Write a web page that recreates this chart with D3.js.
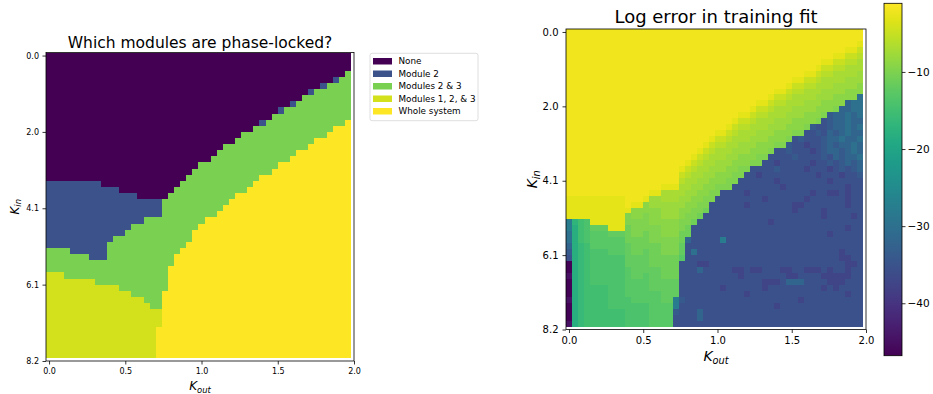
<!DOCTYPE html>
<html><head><meta charset="utf-8">
<script src="https://cdn.jsdelivr.net/npm/d3@7"></script>
<style>
html,body{margin:0;padding:0;background:#fff;}
svg{display:block;font-family:"DejaVu Sans",sans-serif;}
</style></head><body>
<svg id="chart" width="933" height="394"></svg>
<script>
// ---------- data: left panel (categorical phase-lock map) ----------
const categories = ["None", "Module 2", "Modules 2 & 3", "Modules 1, 2, & 3", "Whole system"];
const categoryColors = ["#440154", "#3b528b", "#7ad151", "#d2e11b", "#fde725"];
// for each K_out column: row index where each successive category ends
const noneEnd      = [21,21,21,21,21,21,21,21,21,22,22,22,23,23,23,24,24,24,24,24,23,22,21,20,19,18,18,17,16,15,15,14,13,13,12,11,11,10,9,9,8,8,7,6,6,5,5,4,4,3];
const module2End   = [32,32,32,32,33,33,33,34,34,34,31,30,30,29,28,28,27,27,27,24,23,22,21,20,19,18,18,17,16,15,15,14,13,13,12,12,11,10,10,9,9,8,7,7,6,6,5,5,4,3];
const modules23End = [36,36,36,37,37,37,37,37,38,38,38,38,39,39,40,40,41,42,42,39,35,33,32,31,29,28,27,27,26,25,24,23,23,22,21,20,20,19,18,18,17,16,16,15,14,14,13,12,12,11];
const modules123End= [50,50,50,50,50,50,50,50,50,50,50,50,50,50,50,50,50,50,45,39,35,33,32,31,29,28,27,27,26,25,24,23,23,22,21,20,20,19,18,18,17,16,16,15,14,14,13,12,12,11];

// ---------- data: right panel (log error), one char per cell ----------
const levelChars  = "ABCDEFGHIJKLMNOPQRSTUVWXYZabcdef";
const levelValues = [-1.2,-2,-3,-4,-5,-6,-7,-8,-9,-10,-11,-12,-13,-14,-15,-16,-17,-18,-20,-22,-25,-28,-30,-32,-34,-35.5,-37.5,-39.5,-41.5,-43.5,-45,-46.5];
const errorRows = [
"BBBBBBBBBB BBBBBBBBBB BBBBBBBBBB BBBBBBBBBB BBBBBBBBBB",
"BBBBBBBBBB BBBBBBBBBB BBBBBBBBBB BBBBBBBBBB BBBBBBBBBB",
"BBBBBBBBBB BBBBBBBBBB BBBBBBBBBB BBBBBBBBBB BBBBBBBBBC",
"BBBBBBBBBB BBBBBBBBBB BBBBBBBBBB BBBBBBBBBB BBBBBBBCCE",
"BBBBBBBBBB BBBBBBBBBB BBBBBBBBBB BBBBBBBBBB BBBBBCCEEF",
"BBBBBBBBBB BBBBBBBBBB BBBBBBBBBB BBBBBBBBBB BBBCCEEFFG",
"BBBBBBBBBB BBBBBBBBBB BBBBBBBBBB BBBBBBBBBB BBCEEFFGGG",
"BBBBBBBBBB BBBBBBBBBB BBBBBBBBBB BBBBBBBBBB CCEFFGGGGH",
"BBBBBBBBBB BBBBBBBBBB BBBBBBBBBB BBBBBBBBCC EEFGGGGHHH",
"BBBBBBBBBB BBBBBBBBBB BBBBBBBBBB BBBBBBBCEE FFGGGHHHHI",
"BBBBBBBBBB BBBBBBBBBB BBBBBBBBBB BBBBBCCEFF GGGHHHHIII",
"BBBBBBBBBB BBBBBBBBBB BBBBBBBBBB BBBBCEEFGG GGHHHIIIIW",
"BBBBBBBBBB BBBBBBBBBB BBBBBBBBBB BBCCEFFGGG HHHIIIIXWW",
"BBBBBBBBBB BBBBBBBBBB BBBBBBBBBB BCEEFGGGHH HHIIIJXXWW",
"BBBBBBBBBB BBBBBBBBBB BBBBBBBBBC CEFFGGGHHH IIIJYXXWXW",
"BBBBBBBBBB BBBBBBBBBB BBBBBBBBCE EFGGGHHHII IIJZYXXWXX",
"BBBBBBBBBB BBBBBBBBBB BBBBBBBCEF FGGGHHHIII JYZZYXXWXW",
"BBBBBBBBBB BBBBBBBBBB BBBBBCCEFG GGHHHIIIJJ ZZYZXYXWXX",
"BBBBBBBBBB BBBBBBBBBB BBBBCEEFGG GHHHIIIJZY ZZZYXXWXXW",
"BBBBBBBBBB BBBBBBBBBB BBBCEFFGGH HHIIIJJYZZ aZZYXYXXWX",
"BBBBBBBBBB BBBBBBBBBB BBCEFGGGHH HIIIJZZYZZ ZaZYXXYXWX",
"BBBBBBBBBB BBBBBBBBBB BCEFGGGHHI IIJJZZZZYZ ZZZYZXYXXW",
"BBBBBBBBBB BBBBBBBBBB CEFGGHHHII IJJZZaZZZZ ZaZZYZYXYX",
"BBBBBBBBBB BBBBBBBBBC EFGGHHHIIJ JZZZZYZZZZ aZZZaZYZYX",
"BBBBBBBBBB BBBBBBBBBE FGGHHIIIJJ ZZaZZZZZZZ ZZaZZZaZZY",
"BBBBBBBBBB BBBBBBBBBF GGHHIIIJJZ ZZZZZaZZZZ ZZZZaZZZZZ",
"BBBBBBBBBB BBBBBBCCCG GHHIIJJJZZ ZZZZZZaZZZ ZZZZZZZaZZ",
"BBBBBBBBBB BBBBCCGGGG HHIIJJZZZZ aZZZZZZZZZ ZaZZaaZaZZ",
"CCCCCCCCCC BBBCHHGGGH HIIJJZZZZZ ZZZaZZZZZZ aZZZZZZaZZ",
"CCCCCCCCCC BCCIHHHHHH IIJJZZZZZZ aZZZZZZZaa ZZZZZZZaZZ",
"CCCCCCCCCC CIIIIIHHHI IJJKZZZZZZ ZZZZZZZZaZ ZZZaZZZZZZ",
"CCCCCCCCCC JIIJIIHHHI JJKZZZZZZZ ZZZZZZZZZZ ZZZaZZZZaZ",
"VQONCCCCCC JJJJIIIIIJ JKZZZZZZZZ ZZZZaZZZZZ ZZZZZZZZZZ",
"VRONLLLCCC KJJJJJIIIJ KZZZZZZZZZ ZZZZZZZZZZ ZZZZZZZaZZ",
"WRONMMMLLL KJJKJJIIIK KZZZZZZZZZ ZZZZZZZZZZ ZZZZaZZZZZ",
"WRONMMMMMM KKKKJJJJJK XZZZZZVZZZ ZZZZZZZZZZ ZZZZZZZZZZ",
"XRPOMMMMMM LKKKKKJJJL ZZZZZZZZZZ ZZZZZZZZZZ ZZZZZZZZZZ",
"YRPONNNMMM LKKLKKJJJL ZWZZZZZZZZ ZZZZZZZZZZ ZZZZZZaZZZ",
"ZRPONNNNNN LLLLKKKKKM ZZZZZZZZZZ ZZZZZZZZZZ ZZZZZZaaZZ",
"fRPONNNNNN LLLLKKKKKZ ZZaaZZZZZZ ZZZZZZZZZZ ZZZZZZZaaZ",
"fRPONNNNNN MLLLLLKKKZ ZZXZZZZZaa ZaaZZZaaZZ aaaZaZZaZZ",
"eRPONNNNNN MLLMLLKKKZ ZZZZZZZZZa ZZZZZZZaaZ ZZZaaaaaZZ",
"fRPONNNNNN MMMMLLLLLZ ZZZZZZZZZZ ZZZaaaZXXX ZZZZaaaZZZ",
"fRPOOOONNN MMMMLLLLLZ ZZZZZZaZZZ ZZZaZZZZZZ ZZZaZaZZZZ",
"fRPOOOONNN MMMMMMLLLZ ZZZZZZZZZZ aZZZZZZZZZ ZZZZZZZaZZ",
"eRPOOOONNN NMMMMMLLVY ZZZZZZZZZZ ZZZZZZZZZa ZZZZZZZZZZ",
"fRPOOOONNN NNNNMMMMVZ ZZZZZZZZZZ ZZZZZaZZZZ ZZZZZZZZZZ",
"fRPOOOOOOO NNNNMMMMYZ ZZXZZZZZZZ ZZZZZZZZZZ ZZZZZZZZZZ",
"fRPOOOOOOO NNNNMMMMZZ ZZXZZZZZZZ ZZZZZZZZZZ ZZZZZZZZZZ",
"eRPOOOOOOO NNNNMMMMZZ ZZZZZZZZZZ ZZZZZZZZZZ ZZZZZZZZZZ"
];

// ---------- axes data ----------
const kOutMax = 2.0, kInMax = 8.2;
const xTickValues = [0, 0.5, 1.0, 1.5, 2.0];
const xTickLabels = ["0.0", "0.5", "1.0", "1.5", "2.0"];
const yTickValues = [0, 2.05, 4.1, 6.15, 8.2];
const yTickLabels = ["0.0", "2.0", "4.1", "6.1", "8.2"];
const colorbarTicks = [-10, -20, -30, -40];
const colorMin = -46.8, colorMax = -1.1;

// ---------- drawing ----------
const svg = d3.select("#chart");
const FONT = "DejaVu Sans";
const nCols = noneEnd.length, nRows = errorRows.length;
const stepOut = kOutMax / nCols, stepIn = kInMax / nRows;

function makeScales(box) {
  return {
    x: d3.scaleLinear().domain([-stepOut / 2, kOutMax]).range([box.x0, box.x1]),
    y: d3.scaleLinear().domain([-stepIn / 2, kInMax]).range([box.y0, box.y1])
  };
}
function drawAxes(s, box, fs, padX, padY) {
  const gx = svg.append("g").attr("transform", `translate(0,${box.y1})`)
    .call(d3.axisBottom(s.x).tickValues(xTickValues).tickFormat((d, i) => xTickLabels[i]).tickSize(3.5).tickPadding(padX));
  const gy = svg.append("g").attr("transform", `translate(${box.x0},0)`)
    .call(d3.axisLeft(s.y).tickValues(yTickValues).tickFormat((d, i) => yTickLabels[i]).tickSize(3.5).tickPadding(padY));
  [gx, gy].forEach(g => {
    g.select(".domain").remove();
    g.attr("font-size", fs).attr("font-family", FONT);
    g.selectAll("line").attr("stroke", "#000").attr("stroke-width", 0.8);
    g.selectAll("text").attr("fill", "#000");
  });
  svg.append("rect").attr("x", box.x0).attr("y", box.y0)
    .attr("width", box.x1 - box.x0).attr("height", box.y1 - box.y0)
    .attr("fill", "none").attr("stroke", "#000").attr("stroke-width", 0.8);
}
function kLabel(x, y, sub, size, rotate) {
  const t = svg.append("text")
    .attr("transform", `translate(${x},${y})` + (rotate ? " rotate(-90)" : ""))
    .attr("text-anchor", "middle").attr("font-size", size)
    .attr("font-style", "italic").attr("font-family", FONT).attr("fill", "#000");
  t.append("tspan").text("K");
  t.append("tspan").attr("font-size", size * 0.7).attr("dy", size * 0.22).text(sub);
}

// ----- left panel -----
const LB = {x0: 46, x1: 354, y0: 52.5, y1: 361};
const sL = makeScales(LB);
const segs = [];
d3.range(nCols).forEach(c => {
  const b = [0, noneEnd[c], module2End[c], modules23End[c], modules123End[c], nRows];
  for (let k = 0; k < 5; k++) if (b[k + 1] > b[k]) segs.push({c, r0: b[k], r1: b[k + 1], k});
});
svg.append("g").attr("shape-rendering", "crispEdges").selectAll("rect").data(segs).join("rect")
  .attr("x", d => sL.x((d.c - 0.5) * stepOut))
  .attr("width", d => sL.x((d.c + 0.5) * stepOut) - sL.x((d.c - 0.5) * stepOut))
  .attr("y", d => sL.y((d.r0 - 0.5) * stepIn))
  .attr("height", d => sL.y((d.r1 - 0.5) * stepIn) - sL.y((d.r0 - 0.5) * stepIn))
  .attr("fill", d => categoryColors[d.k]);
drawAxes(sL, LB, 8, 3.5, 3.5);
svg.append("text").attr("x", (LB.x0 + LB.x1) / 2).attr("y", 47.5).attr("text-anchor", "middle")
  .attr("font-size", 15.5).attr("font-family", FONT).text("Which modules are phase-locked?");
kLabel((LB.x0 + LB.x1) / 2, 390, "out", 12, false);
kLabel(18.5, (LB.y0 + LB.y1) / 2, "in", 12, true);

// legend
const leg = svg.append("g");
leg.append("rect").attr("x", 370).attr("y", 53.3).attr("width", 108).attr("height", 67.4)
  .attr("rx", 2).attr("fill", "#fff").attr("stroke", "#d5d5d5").attr("stroke-width", 0.8);
const legRows = leg.selectAll("g.item").data(categories).join("g").attr("class", "item")
  .attr("transform", (d, i) => `translate(0,${61.2 + i * 12.5})`);
legRows.append("rect").attr("x", 373).attr("y", -3.2).attr("width", 19).attr("height", 6.5)
  .attr("fill", (d, i) => categoryColors[i]);
legRows.append("text").attr("x", 398.5).attr("y", 3.1).attr("font-size", 8.8)
  .attr("font-family", FONT).attr("fill", "#000").text(d => d);

// ----- right panel -----
const RB = {x0: 566, x1: 866, y0: 29, y1: 329.5};
const sR = makeScales(RB);
const color = d3.scaleSequential(d3.interpolateViridis).domain([colorMin, colorMax]);
const cells = [];
errorRows.forEach((row, r) => {
  row.replace(/ /g, "").split("").forEach((ch, c) => {
    cells.push({r, c, v: levelValues[levelChars.indexOf(ch)]});
  });
});
svg.append("g").attr("shape-rendering", "crispEdges").selectAll("rect").data(cells).join("rect")
  .attr("x", d => sR.x((d.c - 0.5) * stepOut))
  .attr("width", d => sR.x((d.c + 0.5) * stepOut) - sR.x((d.c - 0.5) * stepOut))
  .attr("y", d => sR.y((d.r - 0.5) * stepIn))
  .attr("height", d => sR.y((d.r + 0.5) * stepIn) - sR.y((d.r - 0.5) * stepIn))
  .attr("fill", d => color(d.v));
drawAxes(sR, RB, 10, 4, 4);
svg.append("text").attr("x", (RB.x0 + RB.x1) / 2).attr("y", 23.3).attr("text-anchor", "middle")
  .attr("font-size", 18).attr("font-family", FONT).text("Log error in training fit");
kLabel((RB.x0 + RB.x1) / 2, 361, "out", 14, false);
kLabel(536.5, (RB.y0 + RB.y1) / 2, "in", 14, true);

// ----- colorbar -----
const CB = {x0: 884, x1: 902, y0: 3.3, y1: 355.7};
const cbScale = d3.scaleLinear().domain([colorMin, colorMax]).range([CB.y1, CB.y0]);
const defs = svg.append("defs");
const grad = defs.append("linearGradient").attr("id", "cbgrad")
  .attr("x1", 0).attr("y1", 1).attr("x2", 0).attr("y2", 0);
d3.range(0, 21).forEach(i => grad.append("stop").attr("offset", i / 20)
  .attr("stop-color", color(colorMin + (colorMax - colorMin) * i / 20)));
svg.append("rect").attr("x", CB.x0).attr("y", CB.y0).attr("width", CB.x1 - CB.x0)
  .attr("height", CB.y1 - CB.y0).attr("fill", "url(#cbgrad)")
  .attr("stroke", "#000").attr("stroke-width", 0.8);
const gcb = svg.append("g").attr("transform", `translate(${CB.x1},0)`)
  .call(d3.axisRight(cbScale).tickValues(colorbarTicks).tickSize(3.5).tickPadding(2));
gcb.select(".domain").remove();
gcb.attr("font-size", 10.5).attr("font-family", FONT);
gcb.selectAll("line").attr("stroke", "#000").attr("stroke-width", 0.8);
gcb.selectAll("text").attr("fill", "#000");
</script>
</body></html>
